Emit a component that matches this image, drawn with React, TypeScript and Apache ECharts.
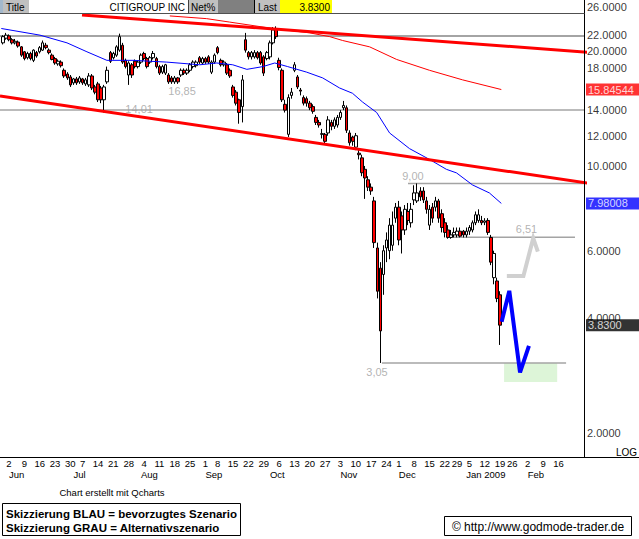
import React, { useEffect, useRef } from 'react';
import * as echarts from 'echarts';

const FONT = '"Liberation Sans", Arial, Helvetica, sans-serif';
const NARROW = '"Liberation Sans Narrow", "Arial Narrow", "Liberation Sans", Arial, sans-serif';

// ---- calendar (trading days) ----
const firstDay = '2008-05-29';
const slotCount = 190;
const holidays = ['2008-07-04', '2008-09-01', '2008-11-27', '2008-12-25', '2009-01-01', '2009-01-19', '2009-02-16'];
const lastLabelDay = '2009-02-17';
const monthNames = ['Jan', 'Feb', 'Mar', 'Apr', 'May', 'Jun', 'Jul', 'Aug', 'Sep', 'Oct', 'Nov', 'Dec'];

// ---- candles ----
const opens = [
  21.0, 21.6, 21.9, 21.4, 21.0, 21.1, 20.5, 19.9, 19.2, 19.7,
  18.9, 19.8, 19.9, 20.1, 20.7, 20.1, 19.5, 19.1, 18.5, 18.7,
  17.8, 17.4, 17.1, 16.5, 16.9, 16.6, 16.9, 16.4, 16.3, 17.2,
  16.1, 16.4, 16.0, 14.9, 16.6, 19.8, 19.2, 19.5, 20.1, 20.7,
  18.9, 17.3, 18.4, 18.8, 18.2, 18.7, 19.7, 19.1, 18.7, 19.2,
  19.1, 18.2, 17.6, 17.5, 17.3, 17.0, 16.6, 17.0, 17.3, 17.8,
  17.5, 17.8, 18.2, 18.3, 19.2, 18.6, 19.1, 19.3, 17.6, 18.7,
  20.4, 18.9, 18.4, 18.4, 17.8, 16.1, 15.6, 14.9, 14.3, 21.4,
  19.8, 19.3, 19.3, 19.8, 19.8, 19.3, 19.1, 19.3, 21.0, 22.9,
  18.9, 17.8, 14.5, 12.1, 15.3, 17.8, 17.1, 15.8, 15.1, 15.0,
  14.6, 14.3, 13.4, 13.0, 12.1, 12.1, 12.2, 13.0, 12.7, 12.8,
  13.4, 14.2, 14.2, 12.2, 11.9, 11.2, 10.8, 10.5, 9.8, 9.2,
  8.8, 8.1, 6.1, 5.4, 5.2, 6.1, 6.0, 6.2, 7.3, 7.8,
  7.4, 6.8, 7.6, 7.1, 8.15, 8.1, 8.6, 8.6, 8.1, 7.0,
  7.8, 7.8, 8.1, 7.5, 7.1, 6.8, 6.5, 6.6, 6.6, 6.75,
  6.75, 6.6, 6.75, 6.8, 7.1, 7.2, 7.2, 7.12, 7.2, 6.5,
  5.1, 5.0, 4.6,
];
const closes = [
  21.8, 22.0, 21.4, 21.0, 21.2, 20.6, 19.5, 19.1, 19.7, 19.1,
  20.1, 19.4, 20.4, 21.0, 20.4, 19.8, 19.0, 18.6, 18.8, 18.3,
  17.2, 17.0, 16.3, 16.9, 16.5, 17.0, 16.5, 16.8, 17.2, 16.0,
  15.6, 14.9, 14.9, 16.1, 17.8, 18.8, 19.7, 20.5, 21.8, 18.7,
  18.2, 18.6, 17.3, 18.2, 18.7, 19.5, 19.1, 18.2, 19.2, 19.7,
  18.2, 17.5, 18.2, 18.4, 16.6, 16.6, 17.0, 16.6, 17.8, 17.5,
  17.8, 18.4, 18.7, 18.7, 18.7, 19.1, 18.7, 18.7, 18.7, 19.5,
  19.8, 18.4, 18.7, 17.5, 17.2, 15.3, 14.6, 13.8, 16.8, 20.1,
  19.3, 19.8, 19.8, 19.2, 18.6, 17.5, 19.8, 21.0, 22.7, 21.8,
  18.1, 14.9, 14.0, 15.1, 15.6, 18.4, 16.1, 15.7, 14.6, 14.6,
  14.2, 13.9, 13.0, 12.8, 12.15, 11.6, 13.2, 12.7, 13.2, 13.4,
  13.8, 14.4, 12.4, 11.5, 11.6, 12.0, 10.7, 9.6, 9.3, 8.8,
  8.6, 6.3, 4.7, 3.7, 6.0, 6.4, 7.0, 7.0, 7.8, 6.4,
  6.8, 7.7, 7.2, 7.7, 8.5, 8.5, 8.3, 8.15, 7.7, 7.7,
  7.3, 8.1, 7.3, 6.9, 6.7, 6.5, 6.6, 6.7, 6.75, 6.55,
  6.6, 6.75, 6.9, 7.1, 7.45, 7.45, 7.1, 7.18, 6.7, 5.6,
  5.9, 4.5, 3.83,
];
const lows = [
  20.8, 21.4, 21.2, 20.8, 20.8, 20.4, 19.3, 18.9, 19.0, 18.9,
  18.7, 19.2, 19.7, 20.0, 20.2, 19.6, 18.9, 18.4, 18.3, 18.1,
  17.0, 16.8, 16.1, 16.3, 16.3, 16.4, 16.3, 16.2, 16.1, 15.8,
  15.4, 14.7, 14.6, 13.8, 16.4, 18.6, 19.0, 19.3, 19.9, 18.5,
  18.0, 16.3, 17.0, 18.0, 18.0, 18.5, 18.9, 18.0, 18.5, 19.0,
  18.0, 17.3, 17.4, 17.3, 16.4, 16.4, 16.4, 16.4, 17.1, 17.3,
  17.3, 17.6, 18.0, 18.1, 18.5, 18.4, 18.5, 18.5, 17.4, 18.5,
  19.6, 18.2, 18.2, 17.3, 17.0, 15.1, 14.4, 12.9, 13.0, 19.8,
  19.0, 19.0, 19.1, 19.0, 18.4, 17.2, 18.9, 19.0, 20.8, 21.5,
  17.8, 14.7, 13.8, 11.9, 15.0, 17.6, 15.9, 15.3, 14.4, 14.3,
  14.0, 13.7, 12.8, 12.6, 11.8, 11.4, 12.0, 12.4, 12.5, 12.6,
  13.2, 14.0, 12.2, 11.3, 11.3, 11.0, 10.4, 9.4, 8.2, 8.6,
  8.4, 6.1, 4.5, 3.05, 4.6, 5.6, 5.7, 6.0, 7.1, 6.2,
  5.9, 6.6, 7.0, 6.9, 7.9, 8.0, 8.1, 8.0, 7.5, 6.8,
  7.1, 7.6, 7.1, 6.7, 6.5, 6.45, 6.45, 6.5, 6.5, 6.5,
  6.5, 6.5, 6.6, 6.7, 7.0, 7.1, 7.0, 7.0, 6.6, 5.5,
  4.9, 4.4, 3.4,
];
const highs = [
  22.0, 22.3, 22.1, 21.6, 21.5, 21.3, 20.6, 20.0, 19.9, 19.9,
  20.2, 20.0, 20.6, 21.3, 21.0, 20.3, 19.7, 19.3, 19.0, 18.9,
  18.0, 17.6, 17.3, 17.0, 17.1, 17.2, 17.0, 17.0, 17.5, 17.4,
  16.3, 16.6, 16.2, 16.3, 18.2, 20.0, 19.9, 20.7, 22.2, 21.0,
  19.1, 18.8, 18.6, 19.0, 18.9, 19.7, 19.9, 19.3, 19.4, 20.0,
  19.3, 18.4, 18.4, 18.5, 17.5, 17.2, 17.2, 17.1, 18.0, 18.0,
  18.0, 18.6, 18.9, 18.9, 19.4, 19.3, 19.3, 19.5, 18.9, 19.7,
  20.6, 19.1, 18.9, 18.6, 18.0, 16.3, 15.8, 15.0, 17.3, 22.3,
  20.0, 20.0, 20.1, 20.0, 20.0, 19.5, 20.0, 21.3, 23.1, 23.2,
  19.2, 18.0, 14.9, 15.4, 16.0, 18.7, 17.3, 16.0, 15.3, 15.2,
  14.8, 14.5, 13.6, 13.2, 12.5, 12.2, 13.5, 13.2, 13.4, 13.6,
  14.0, 14.8, 14.4, 12.4, 12.0, 12.2, 11.0, 10.7, 10.0, 9.4,
  9.0, 8.3, 6.3, 5.6, 6.2, 6.7, 7.3, 7.6, 8.0, 8.1,
  7.6, 7.9, 8.0, 8.0, 8.9, 9.0, 8.8, 8.8, 8.3, 7.9,
  8.0, 8.3, 8.2, 7.7, 7.3, 7.0, 6.8, 6.9, 6.9, 6.9,
  6.8, 6.9, 7.0, 7.2, 7.6, 7.7, 7.4, 7.3, 7.3, 6.6,
  6.0, 5.1, 4.7,
];

// ---- moving averages (slot index, value) ----
const maBlueIdx = [-0.5, 12.1, 20.9, 27.4, 33.9, 42.4, 53.4, 64.2, 69.7, 74.9, 79.5, 84.7, 88.6, 92.8, 99, 104.2, 109.7, 113.9, 117.2, 121.8, 126, 132.5, 139, 144.5, 147.8, 153, 158.5, 162.4];
const maBlueVal = [22.9, 22.0, 21.0, 19.9, 18.9, 18.9, 18.7, 18.4, 18.6, 18.4, 17.9, 18.2, 18.6, 18.2, 17.6, 17.0, 16.0, 15.5, 14.7, 13.8, 12.2, 11.1, 10.4, 9.8, 9.59, 8.92, 8.5, 7.98];
const maRedIdx = [54.4, 66.4, 73.9, 87.9, 100, 106.5, 110.7, 119.5, 128.3, 139, 149.8, 162.4];
const maRedVal = [24.7, 24.3, 23.8, 22.9, 22.3, 21.8, 21.3, 20.5, 19.0, 17.8, 16.8, 15.85];

// ---- trend lines ----
const upperTrendIdx = [25.8, 207.3];
const upperTrendVal = [24.85, 19.4];
const lowerTrendIdx = [-0.92, 207.3];
const lowerTrendVal = [15.24, 8.61];

// ---- horizontal levels ----
const levelVal = [21.9, 14.01, 9.0, 6.51, 3.05];
const levelFrom = [-0.92, -0.92, 132.0, 145.0, 123.5];
const levelTo = [189.5, 189.5, 189.5, 186.4, 183.5];
const levelWidth = [2, 1.5, 1.5, 1.5, 1.5];

// ---- annotations ----
const annotIdx = [44.4, 58.4, 133.6, 170.6, 121.9];
const annotVal = [14.01, 16.85, 9.0, 6.51, 3.05];
const annotDy = [-1, 12, -7, -8, 9];

// ---- scenarios ----
const blueIdx = [162.5, 165.0, 168.5, 171.4];
const blueVal = [3.91, 4.71, 2.88, 3.38];
const grayIdx = [164.2, 169.6, 172.8, 174.3];
const grayVal = [5.15, 5.15, 6.47, 5.97];
const targetIdx = [163.3, 180.6];
const targetVal = [3.05, 2.72];

// ---- right axis ----
const tickVals = [26, 22, 20, 18, 14, 12, 10, 6, 4, 2];
const lastMa200 = 15.84544;
const lastMa50 = 7.98008;
const lastPrice = 3.83;

function buildDates(): string[] {
  const out: string[] = [];
  const [y, m, d0] = firstDay.split('-').map(Number);
  const d = new Date(Date.UTC(y, m - 1, d0));
  while (out.length < slotCount) {
    const wd = d.getUTCDay();
    const s = d.toISOString().slice(0, 10);
    if (wd !== 0 && wd !== 6 && holidays.indexOf(s) < 0) out.push(s);
    d.setUTCDate(d.getUTCDate() + 1);
  }
  return out;
}

function mondayOf(s: string): string {
  const [y, m, dd] = s.split('-').map(Number);
  const d = new Date(Date.UTC(y, m - 1, dd));
  const wd = d.getUTCDay();
  d.setUTCDate(d.getUTCDate() - (wd - 1));
  return d.toISOString().slice(0, 10);
}

export default function App() {
  const ref = useRef<HTMLDivElement>(null);
  useEffect(() => {
    if (!ref.current) return;
    const chart = echarts.init(ref.current, null, { renderer: 'svg' });
    const dates = buildDates();
    const dayText: string[] = dates.map((s, j) => {
      if (j === 0 || s > lastLabelDay) return '';
      if (mondayOf(s) === mondayOf(dates[j - 1])) return '';
      return String(Number(mondayOf(s).slice(8, 10)));
    });
    const monthText: string[] = dates.map((s, j) => {
      if (j === 0 || s > lastLabelDay) return '';
      if (s.slice(5, 7) === dates[j - 1].slice(5, 7)) return '';
      const m = Number(s.slice(5, 7)) - 1;
      return m === 0 ? monthNames[m] + ' ' + s.slice(0, 4) : monthNames[m];
    });
    const ohlc = opens.map((o, i) => [o, closes[i], lows[i], highs[i]]);
    const pairs = (xs: number[], ys: number[]) => xs.map((x, i) => [x, ys[i]]);
    const rightEdge = slotCount - 0.5;

    const lineSeries = (data: any[], color: string, width: number, z: number) => ({
      type: 'line',
      xAxisIndex: 2,
      yAxisIndex: 0,
      data,
      showSymbol: false,
      symbol: 'none',
      silent: true,
      clip: false,
      z,
      lineStyle: { color, width, join: 'miter', cap: 'butt' },
    });

    const series: any[] = [];
    levelVal.forEach((v, k) => {
      series.push(lineSeries([[levelFrom[k], v], [levelTo[k], v]], '#a4a4a4', levelWidth[k], 1));
    });
    series.push({
      type: 'line',
      xAxisIndex: 2,
      yAxisIndex: 0,
      data: [],
      z: 1,
      silent: true,
      markArea: {
        silent: true,
        itemStyle: { color: '#ddf5d8' },
        data: [[{ coord: [targetIdx[0], targetVal[0]] }, { coord: [targetIdx[1], targetVal[1]] }]],
      },
    });
    series.push({
      type: 'candlestick',
      xAxisIndex: 0,
      yAxisIndex: 0,
      data: ohlc,
      barWidth: 3,
      z: 3,
      silent: true,
      itemStyle: {
        color: '#ffffff',
        color0: '#ff0000',
        borderColor: '#000000',
        borderColor0: '#000000',
        borderWidth: 1,
      },
    });
    series.push(lineSeries(pairs(maBlueIdx, maBlueVal), '#0000ff', 1, 4));
    series.push(lineSeries(pairs(maRedIdx, maRedVal), '#ff0000', 1, 4));
    series.push(lineSeries(pairs(upperTrendIdx, upperTrendVal), '#ff0000', 3, 5));
    series.push(lineSeries(pairs(lowerTrendIdx, lowerTrendVal), '#ff0000', 3, 5));
    series.push(lineSeries(pairs(grayIdx, grayVal), '#d0d0d0', 4, 6));
    series.push(lineSeries(pairs(blueIdx, blueVal), '#0000ff', 4, 6));
    // annotations
    series.push({
      type: 'scatter',
      xAxisIndex: 2,
      yAxisIndex: 0,
      silent: true,
      z: 7,
      symbolSize: 1,
      itemStyle: { color: 'rgba(0,0,0,0)' },
      data: annotIdx.map((x, k) => ({
        value: [x, annotVal[k]],
        label: {
          show: true,
          position: 'inside',
          offset: [0, annotDy[k]],
          formatter: annotVal[k].toFixed(2).replace('.', ','),
          color: '#a0a0a0',
          fontSize: 11,
          fontFamily: FONT,
        },
      })),
    });
    // right axis tick labels
    const axisItem = (v: number, text: string, bg?: string) => ({
      value: [rightEdge, v],
      label: bg
        ? {
            show: true,
            position: 'right',
            distance: 1,
            formatter: text,
            color: '#ffffff',
            backgroundColor: bg,
            padding: [1, 0, 0, 2],
            width: 52,
            lineHeight: 11,
            fontSize: 11,
            fontFamily: FONT,
          }
        : {
            show: true,
            position: 'right',
            distance: 2,
            formatter: text,
            color: '#000000',
            fontSize: 11,
            fontFamily: FONT,
          },
    });
    series.push({
      type: 'scatter',
      xAxisIndex: 2,
      yAxisIndex: 0,
      silent: true,
      clip: false,
      z: 8,
      symbolSize: 1,
      itemStyle: { color: 'rgba(0,0,0,0)' },
      data: [
        ...tickVals.map((v) => axisItem(v, v.toFixed(4))),
        axisItem(lastMa200, lastMa200.toFixed(5), '#ff0000'),
        axisItem(lastMa50, lastMa50.toFixed(5), '#0000ff'),
        axisItem(lastPrice, lastPrice.toFixed(4), '#000000'),
      ],
    });

    const hdrText = (x: number, text: string, align: string) => ({
      type: 'text',
      x,
      y: 7,
      z: 101,
      style: { text, fill: '#000', fontSize: 10, fontFamily: FONT, align, verticalAlign: 'middle' },
    });
    const hdrRect = (x: number, w: number, fill: string) => ({
      type: 'rect',
      z: 100,
      shape: { x, y: 0, width: w, height: 13 },
      style: { fill },
    });

    chart.setOption({
      animation: false,
      backgroundColor: '#ffffff',
      grid: { left: 1.3, width: 583.2, top: 0, height: 457, containLabel: false },
      xAxis: [
        {
          type: 'category',
          data: dates,
          boundaryGap: true,
          axisLine: { show: false },
          axisTick: { show: false },
          splitLine: { show: false },
          axisLabel: {
            interval: (i: number) => dayText[i] !== '',
            formatter: (_v: string, i: number) => dayText[i],
            fontSize: 9.5,
            lineHeight: 8,
            margin: 2,
            color: '#000',
            fontFamily: NARROW,
          },
        },
        {
          type: 'category',
          data: dates,
          boundaryGap: true,
          position: 'bottom',
          offset: 11,
          axisLine: { show: false },
          axisTick: { show: false },
          splitLine: { show: false },
          axisLabel: {
            interval: (i: number) => monthText[i] !== '',
            formatter: (_v: string, i: number) => monthText[i],
            fontSize: 9.5,
            lineHeight: 8,
            margin: 2,
            align: 'left',
            color: '#000',
            fontFamily: NARROW,
          },
        },
        { type: 'value', min: -0.5, max: rightEdge, show: false },
      ],
      yAxis: [
        {
          type: 'log',
          logBase: 10,
          min: 1.7304,
          max: 27.19,
          position: 'right',
          axisLine: { show: false },
          axisTick: { show: false },
          axisLabel: { show: false },
          splitLine: { show: false },
        },
      ],
      series,
      graphic: {
        elements: [
          hdrRect(0, 3, '#a3b8cc'),
          hdrRect(3, 26, '#c0c0c0'),
          hdrText(6, 'Title', 'left'),
          hdrRect(29, 159, '#ffffff'),
          hdrText(185, 'CITIGROUP INC', 'right'),
          hdrRect(188, 30, '#c0c0c0'),
          { type: 'line', z: 101, shape: { x1: 188.5, y1: 0, x2: 188.5, y2: 13 }, style: { stroke: '#404040', lineWidth: 1 } },
          hdrText(191, 'Net%', 'left'),
          hdrRect(218, 36, '#808080'),
          { type: 'line', z: 101, shape: { x1: 254.5, y1: 0, x2: 254.5, y2: 13 }, style: { stroke: '#000', lineWidth: 1 } },
          hdrRect(255, 25, '#c0c0c0'),
          hdrText(258, 'Last', 'left'),
          hdrRect(280, 52, '#ffff00'),
          hdrText(330, lastPrice.toFixed(4), 'right'),
          { type: 'line', z: 101, shape: { x1: 0, y1: 13.5, x2: 584.5, y2: 13.5 }, style: { stroke: '#505050', lineWidth: 1 } },
          { type: 'line', z: 50, shape: { x1: 584.5, y1: 0, x2: 584.5, y2: 457.5 }, style: { stroke: '#000', lineWidth: 1 } },
          { type: 'line', z: 50, shape: { x1: 0, y1: 457.5, x2: 639, y2: 457.5 }, style: { stroke: '#000', lineWidth: 1 } },
          { type: 'text', x: 637, y: 452, z: 50, style: { text: 'LOG', fontSize: 10, fontFamily: FONT, fill: '#000', align: 'right', verticalAlign: 'middle' } },
          { type: 'text', x: 112, y: 492, z: 50, style: { text: 'Chart erstellt mit Qcharts', fontSize: 9.5, fontFamily: NARROW, fill: '#000', align: 'center', verticalAlign: 'middle' } },
          { type: 'rect', z: 50, shape: { x: 2.5, y: 503.5, width: 238, height: 32 }, style: { fill: '#fff', stroke: '#000', lineWidth: 1 } },
          { type: 'text', x: 6, y: 513.5, z: 51, style: { text: 'Skizzierung BLAU = bevorzugtes Szenario', fontSize: 11.5, fontWeight: 'bold', fontFamily: FONT, fill: '#000', verticalAlign: 'middle' } },
          { type: 'text', x: 6, y: 527.5, z: 51, style: { text: 'Skizzierung GRAU = Alternativszenario', fontSize: 11.5, fontWeight: 'bold', fontFamily: FONT, fill: '#000', verticalAlign: 'middle' } },
          { type: 'rect', z: 50, shape: { x: 444.5, y: 516.5, width: 187, height: 19 }, style: { fill: '#fff', stroke: '#000', lineWidth: 1 } },
          { type: 'text', x: 538, y: 526.5, z: 51, style: { text: '\u00A9 http://www.godmode-trader.de', fontSize: 12, fontFamily: FONT, fill: '#000', align: 'center', verticalAlign: 'middle' } },
        ],
      },
    });
    return () => chart.dispose();
  }, []);
  return (
    <div
      ref={ref}
      style={{ position: 'absolute', left: 0, top: 0, width: 639, height: 539, background: '#fff' }}
    />
  );
}
